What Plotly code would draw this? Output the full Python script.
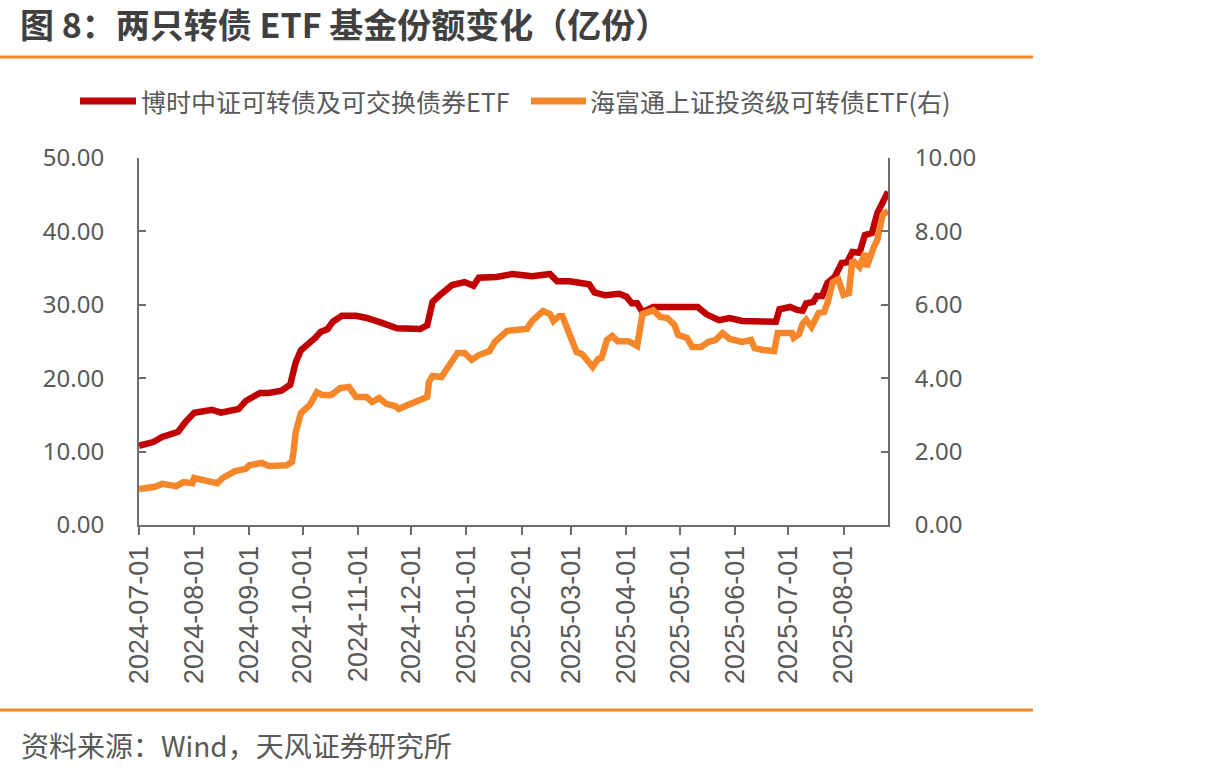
import plotly.graph_objects as go

# ---- data ----
red_name = "博时中证可转债及可交换债券ETF"
orange_name = "海富通上证投资级可转债ETF(右)"

red_dates = ["2024-07-01","2024-07-09","2024-07-14","2024-07-23","2024-07-27","2024-08-01","2024-08-11",
             "2024-08-16","2024-08-26","2024-08-30","2024-09-07","2024-09-12","2024-09-19","2024-09-24",
             "2024-09-27","2024-09-30","2024-10-08","2024-10-11","2024-10-15","2024-10-18","2024-10-23",
             "2024-10-31","2024-11-06","2024-11-09","2024-11-15","2024-11-23","2024-11-28","2024-12-06",
             "2024-12-10","2024-12-13","2024-12-17","2024-12-24","2024-12-31","2025-01-05","2025-01-08",
             "2025-01-18","2025-01-27","2025-02-07","2025-02-17","2025-02-21","2025-02-28","2025-03-06",
             "2025-03-11","2025-03-14","2025-03-20","2025-03-28","2025-04-01","2025-04-04","2025-04-07",
             "2025-04-10","2025-04-16","2025-05-11","2025-05-16","2025-05-23","2025-05-29","2025-06-05",
             "2025-06-16","2025-06-20","2025-06-24","2025-06-26","2025-07-02","2025-07-06","2025-07-09",
             "2025-07-11","2025-07-15","2025-07-17","2025-07-20","2025-07-23","2025-07-27","2025-07-31",
             "2025-08-03","2025-08-06","2025-08-10","2025-08-13","2025-08-17","2025-08-20","2025-08-23",
             "2025-08-26"]
red_values = [10.8,11.3,12.0,12.7,14.0,15.3,15.7,
              15.3,15.8,16.9,18.0,18.0,18.3,19.1,
              22.1,23.8,25.5,26.3,26.7,27.7,28.5,
              28.5,28.2,27.9,27.5,26.8,26.8,26.7,
              27.2,30.4,31.3,32.7,33.1,32.6,33.7,
              33.8,34.2,33.9,34.2,33.2,33.2,33.0,
              32.8,31.7,31.3,31.5,31.1,30.2,30.2,
              29.0,29.7,29.7,28.7,27.9,28.2,27.8,
              27.8,27.6,27.7,29.4,29.7,29.3,29.2,
              30.2,30.4,31.2,31.2,33.0,33.8,35.7,
              35.8,37.2,37.1,39.5,39.8,42.5,43.9,
              45.4]

orange_dates = ["2024-07-01","2024-07-10","2024-07-14","2024-07-22","2024-07-26","2024-07-31","2024-08-01",
                "2024-08-08","2024-08-14","2024-08-17","2024-08-24","2024-08-30","2024-09-01","2024-09-08",
                "2024-09-12","2024-09-22","2024-09-25","2024-09-26","2024-09-27","2024-09-30","2024-10-05",
                "2024-10-09","2024-10-12","2024-10-17","2024-10-22","2024-10-27","2024-10-31","2024-11-06",
                "2024-11-09","2024-11-13","2024-11-17","2024-11-22","2024-11-24","2024-11-29","2024-12-04",
                "2024-12-10","2024-12-11","2024-12-13","2024-12-18","2024-12-22","2024-12-27","2024-12-31",
                "2025-01-04","2025-01-08","2025-01-14","2025-01-17","2025-01-24","2025-02-04","2025-02-07",
                "2025-02-13","2025-02-17","2025-02-19","2025-02-22","2025-02-24","2025-02-27","2025-03-04",
                "2025-03-07","2025-03-10","2025-03-13","2025-03-16","2025-03-18","2025-03-21","2025-03-24",
                "2025-03-27","2025-04-02","2025-04-04","2025-04-07","2025-04-10","2025-04-16","2025-04-20",
                "2025-04-24","2025-04-28","2025-04-30","2025-05-05","2025-05-08","2025-05-13","2025-05-17",
                "2025-05-21","2025-05-25","2025-05-29","2025-06-05","2025-06-10","2025-06-12","2025-06-17",
                "2025-06-23","2025-06-25","2025-07-03","2025-07-04","2025-07-07","2025-07-09","2025-07-11",
                "2025-07-14","2025-07-18","2025-07-21","2025-07-23","2025-07-26","2025-07-29","2025-08-01",
                "2025-08-04","2025-08-06","2025-08-10","2025-08-13","2025-08-14","2025-08-18","2025-08-20",
                "2025-08-23","2025-08-26"]
orange_values = [0.98,1.04,1.12,1.06,1.17,1.14,1.28,
                 1.20,1.14,1.28,1.47,1.53,1.63,1.69,
                 1.61,1.63,1.72,2.04,2.51,3.05,3.27,
                 3.62,3.54,3.54,3.73,3.76,3.49,3.49,
                 3.35,3.46,3.30,3.24,3.16,3.27,3.38,
                 3.49,3.90,4.06,4.03,4.31,4.69,4.69,
                 4.50,4.63,4.74,4.99,5.29,5.34,5.56,
                 5.83,5.75,5.56,5.69,5.69,5.31,4.71,
                 4.66,4.50,4.31,4.52,4.55,5.04,5.15,
                 5.01,5.01,4.96,4.88,5.75,5.85,5.67,
                 5.64,5.45,5.18,5.10,4.85,4.85,4.99,
                 5.04,5.23,5.07,4.99,5.04,4.82,4.77,
                 4.74,5.23,5.23,5.10,5.20,5.48,5.59,
                 5.40,5.78,5.80,6.05,6.62,6.70,6.27,
                 6.32,7.22,7.03,7.41,7.03,7.57,7.77,
                 8.45,8.56]

left_ticks = [0, 10, 20, 30, 40, 50]
right_ticks = [0, 2, 4, 6, 8, 10]
x_range = ["2024-07-01", "2025-08-26"]

title_text = "图 8：两只转债 ETF 基金份额变化（亿份）"
source_text = "资料来源：Wind，天风证券研究所"

# ---- styles ----
RED = "#C00000"
ORANGE = "#F5872A"
AXIS = "#6E6E6E"
TXT = "#595959"
W, H = 1223, 776
L, R, T, B = 139, 888, 158, 525

fig = go.Figure()
fig.add_trace(go.Scatter(x=red_dates, y=red_values, mode="lines", name=red_name,
                         line=dict(color=RED, width=6.5), yaxis="y", showlegend=False))
fig.add_trace(go.Scatter(x=orange_dates, y=orange_values, mode="lines", name=orange_name,
                         line=dict(color=ORANGE, width=6.5), yaxis="y2", showlegend=False))

fig.update_layout(
    width=W, height=H,
    margin=dict(l=L, r=W - R, t=T, b=H - B, pad=0),
    paper_bgcolor="white", plot_bgcolor="white",
    xaxis=dict(type="date", range=x_range, dtick="M1", tick0="2024-07-01",
               tickformat="%Y-%m-%d", tickangle=-90,
               ticks="outside", ticklen=8, tickwidth=2, tickcolor=AXIS,
               showline=True, linecolor=AXIS, linewidth=2, showgrid=False, zeroline=False,
               tickfont=dict(family="Liberation Sans, Arial", size=27, color=TXT)),
    yaxis=dict(range=[0, 50], tickvals=left_ticks, ticktext=[f"{v:.2f}" for v in left_ticks],
               ticks="inside", ticklen=7, tickwidth=2, tickcolor=AXIS,
               showline=True, linecolor=AXIS, linewidth=2, showgrid=False, zeroline=False,
               ticklabelstandoff=28,
               tickfont=dict(family="Noto Sans", size=24, color=TXT)),
    yaxis2=dict(range=[0, 10], tickvals=right_ticks, ticktext=[f"{v:.2f}" for v in right_ticks],
                overlaying="y", side="right",
                ticks="inside", ticklen=7, tickwidth=2, tickcolor=AXIS,
                showline=True, linecolor=AXIS, linewidth=2, showgrid=False, zeroline=False,
                ticklabelstandoff=20,
                tickfont=dict(family="Noto Sans", size=24, color=TXT)),
)

def pline(x0, y0, x1, y1, color, width):
    # figure pixels -> paper coordinates (paper spans the plot area)
    pw, ph = R - L, B - T
    return dict(type="line", xref="paper", yref="paper",
                x0=(x0 - L) / pw, x1=(x1 - L) / pw,
                y0=(B - y0) / ph, y1=(B - y1) / ph,
                line=dict(color=color, width=width), layer="above")

shapes = [
    pline(0, 57, 1033, 57, ORANGE, 3),
    pline(0, 710, 1033, 710, ORANGE, 3),
    pline(80, 101, 136, 101, RED, 7),
    pline(531, 101, 586, 101, ORANGE, 7),
]
fig.update_layout(shapes=shapes)

def pann(x, y, text, size, color, family, xanchor="left", yanchor="middle"):
    pw, ph = R - L, B - T
    return dict(xref="paper", yref="paper", x=(x - L) / pw, y=(B - y) / ph,
                text=text, showarrow=False, xanchor=xanchor, yanchor=yanchor,
                font=dict(size=size, color=color, family=family))

CJK = "Noto Sans CJK SC"
anns = [
    pann(18, 24, "<b>" + title_text + "</b>", 34, "#404040", CJK),
    pann(139, 101, red_name, 25, TXT, CJK),
    pann(588, 101, orange_name, 25, TXT, CJK),
    pann(19, 745, source_text, 28, TXT, CJK),
]
fig.update_layout(annotations=anns)

fig.write_html("out.html")
